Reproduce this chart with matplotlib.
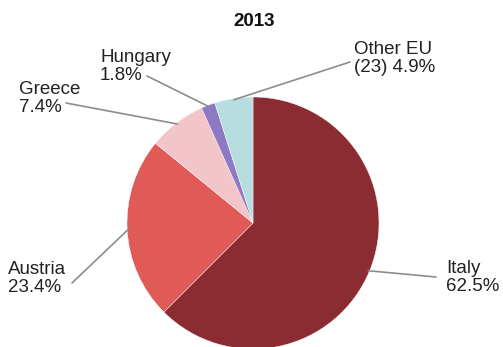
import numpy as np
import matplotlib
matplotlib.use("Agg")
import matplotlib.pyplot as plt

plt.rcParams['font.family'] = ['Liberation Sans', 'DejaVu Sans']

# Data
categories = ["Italy", "Austria", "Greece", "Hungary", "Other EU"]
label_texts = ["Italy\n62.5%", "Austria\n23.4%", "Greece\n7.4%", "Hungary\n1.8%", "Other EU\n(23) 4.9%"]
values = [62.5, 23.4, 7.4, 1.8, 4.9]
colors = ["#8a2c31", "#e05a57", "#f2c5c8", "#8d79c4", "#b8dde1"]
title = "2013"

W, H = 503, 347
CX, CY, R = 253, 223, 126  # pie centre / radius in pixels (layout)

def px(x, y):
    return (x - CX) / R, (CY - y) / R

fig = plt.figure(figsize=(W / 100, H / 100), dpi=100)
ax = fig.add_axes([0, 0, 1, 1])
wedges, _ = ax.pie(values, colors=colors, startangle=90, counterclock=False,
                   radius=1.0, center=(0, 0),
                   wedgeprops=dict(edgecolor="white", linewidth=0.3))
ax.set_xlim(-CX / R, (W - CX) / R)
ax.set_ylim(-(H - CY) / R, CY / R)
ax.set_aspect('equal')
ax.axis('off')

# label layout (pixels): text top-left, leader-line start
text_pos = {"Italy": (446, 260), "Austria": (8, 261), "Greece": (19, 81),
            "Hungary": (100, 49), "Other EU": (354, 41)}
line_start = {"Italy": (436, 277), "Austria": (72, 283), "Greece": (66, 103),
              "Hungary": (147, 76), "Other EU": (350, 62)}

for w, cat, txt in zip(wedges, categories, label_texts):
    ang = np.deg2rad((w.theta1 + w.theta2) / 2)
    rr = 0.99
    cx, cy = w.center
    ex_pt = (cx + rr * np.cos(ang), cy + rr * np.sin(ang))
    sx, sy = px(*line_start[cat])
    ax.plot([sx, ex_pt[0]], [sy, ex_pt[1]], color="#8c8c8c", lw=1.2,
            solid_capstyle='round', zorder=5)
    tx, ty = px(*text_pos[cat])
    ax.text(tx, ty, txt, ha='left', va='top', fontsize=13.5,
            color="#222222", linespacing=1.1)

ax.text(*px(254, 22), title, ha='center', va='center', fontsize=13.5,
        fontweight='bold', color="#111111")

fig.savefig("out.png", dpi=100, facecolor="white")
